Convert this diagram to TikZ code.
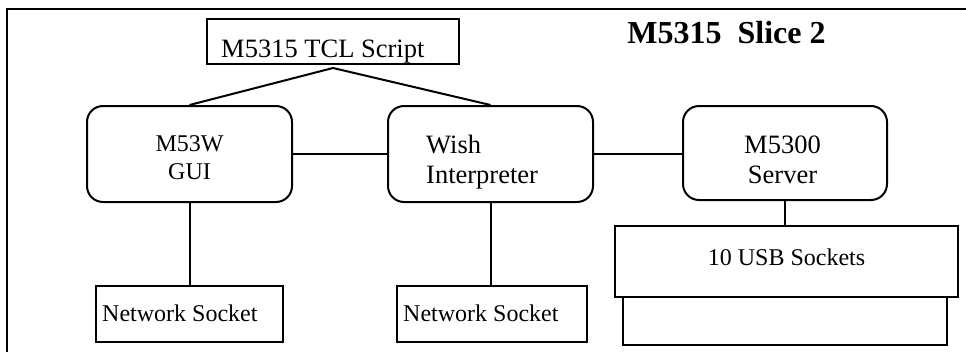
\documentclass[tikz,border=0pt]{standalone}
\usepackage{fontspec}
\setmainfont{Liberation Serif}
\begin{document}
\begin{tikzpicture}[x=1pt,y=-1pt,
  wire/.style={line width=2pt},
  sqbox/.style={draw,line width=2pt,inner sep=0pt,fill=white},
  rbox/.style={draw,line width=2pt,inner sep=0pt,rounded corners=16pt,fill=white},
  txt/.style={inner sep=0pt,font=\fontsize{24}{28}\selectfont},
  bigtxt/.style={inner sep=0pt,font=\fontsize{26.5}{30}\selectfont},
  ttl/.style={inner sep=0pt,font=\fontsize{32}{36}\selectfont\bfseries}]
\useasboundingbox (0,0) rectangle (966,351);
% frame
\coordinate (fbl) at (7,352);
\coordinate (ftl) at (7,9);
\coordinate (ftr) at (967,9);
\draw[wire] (fbl) -- (ftl) -- (ftr);
% boxes
\node[sqbox,minimum width=252pt,minimum height=45pt] (tcl) at (333,41.5) {};
\node[rbox,minimum width=205pt,minimum height=96pt] (gui) at (189.5,154) {};
\node[rbox,minimum width=205pt,minimum height=96pt] (wish) at (490.5,154) {};
\node[rbox,minimum width=204pt,minimum height=94pt] (server) at (785,153) {};
\node[sqbox,minimum width=324pt,minimum height=48pt] (usbback) at (785,321) {};
\node[sqbox,minimum width=343pt,minimum height=71pt] (usb) at (786.5,261.5) {};
\node[sqbox,minimum width=187pt,minimum height=56pt] (ns1) at (189.5,314) {};
\node[sqbox,minimum width=190pt,minimum height=56pt] (ns2) at (492,314) {};
% texts
\node[ttl,anchor=base] (title) at (726.5,43) {M5315\ \ Slice 2};
\node[bigtxt,anchor=base west] (tcltext) at (221,57) {M5315 TCL Script};
\node[txt,anchor=base] (guia) at (189.5,151) {M53W};
\node[txt,anchor=base] (guib) at (189.5,179) {GUI};
\node[bigtxt,anchor=base west] (wisha) at (426,153) {Wish};
\node[bigtxt,anchor=base west] (wishb) at (426,183) {Interpreter};
\node[bigtxt,anchor=base] (serva) at (782.5,153) {M5300};
\node[bigtxt,anchor=base] (servb) at (782.5,183) {Server};
\node[txt,anchor=base] (usbtext) at (786.5,265) {10 USB Sockets};
\node[txt,anchor=base west] (ns1text) at (102,321) {Network Socket};
\node[txt,anchor=base west] (ns2text) at (403,321) {Network Socket};
% connectors
\draw[wire] (gui.north) -- ([yshift=-3pt]tcl.south) -- (wish.north);
\draw[wire] (gui.east) -- (wish.west);
\draw[wire] (wish.east) -- (wish.east -| server.west);
\draw[wire] (server.south) -- (server.south |- usb.north);
\draw[wire] (gui.south) -- (ns1.north);
\draw[wire] (wish.south) -- (wish.south |- ns2.north);
\end{tikzpicture}
\end{document}
